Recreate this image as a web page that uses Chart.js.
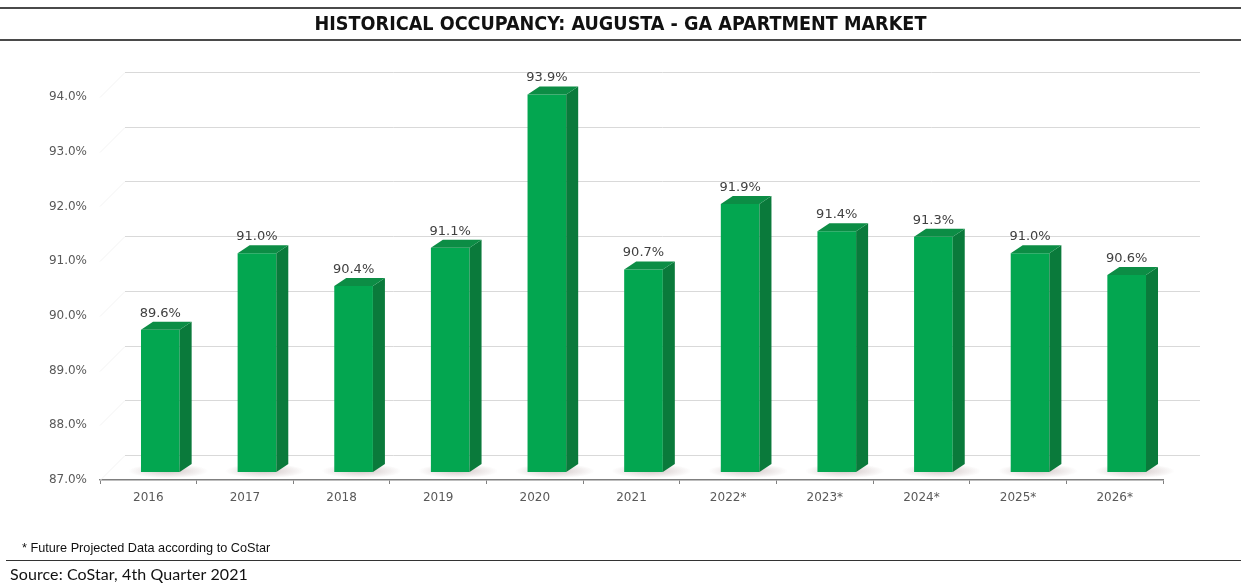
<!DOCTYPE html>
<html>
<head>
<meta charset="utf-8">
<script src="https://cdn.jsdelivr.net/npm/chart.js@4/dist/chart.umd.min.js"></script>
<style>
  body { margin: 0; background: #fff; }
  #wrap { position: relative; width: 1241px; height: 586px; overflow: hidden; }
  #title {
    position: absolute; left: 0; top: 7px; width: 1241px; height: 30px;
    border-top: 2px solid #4a4a4a; border-bottom: 2px solid #4a4a4a;
    text-align: center; line-height: 30px;
    font-family: "DejaVu Sans Condensed", "Liberation Sans", sans-serif;
    font-weight: bold; font-size: 19.6px; color: #111;
  }
  #note {
    position: absolute; left: 22px; top: 541px;
    font-family: "Liberation Sans", Arial, sans-serif; font-size: 12.7px; color: #111;
  }
  #rule { position: absolute; left: 6px; right: 0; top: 560px; border-top: 1.5px solid #333; }
  #source {
    position: absolute; left: 10px; top: 564px; letter-spacing: 0.1px;
    font-family: "Lato", "DejaVu Sans", sans-serif; font-size: 16px; color: #111;
  }
  canvas { position: absolute; left: 0; top: 0; }
</style>
</head>
<body>
<div id="wrap">
  <canvas id="grafico" width="1241" height="586"></canvas>
  <div id="title">HISTORICAL OCCUPANCY: AUGUSTA - GA APARTMENT MARKET</div>
  <div id="note">* Future Projected Data according to CoStar</div>
  <div id="rule"></div>
  <div id="source">Source: CoStar, 4th Quarter 2021</div>
</div>
<script>
const anos = ["2016", "2017", "2018", "2019", "2020", "2021", "2022*", "2023*", "2024*", "2025*", "2026*"]
const ocupacao = [89.6, 91.0, 90.4, 91.1, 93.9, 90.7, 91.9, 91.4, 91.3, 91.0, 90.6]
const eixoMin = 87
const eixoMax = 94

// deslocamento das barras para o fundo e profundidade da barra
const barShift = { x: 12, y: -8 }
const depth = { x: 12, y: -8 }
const wall = 25

const fundo3d = {
    id: 'fundo3d',
    beforeDatasetsDraw(chart) {
        const ctx = chart.ctx
        const y = chart.scales.y
        const area = chart.chartArea
        ctx.save()
        ctx.lineWidth = 1
        y.ticks.forEach((t) => {
            const py = Math.round(y.getPixelForValue(t.value)) + 0.5
            ctx.strokeStyle = '#f3f3f3'
            ctx.beginPath()
            ctx.moveTo(area.left, py)
            ctx.lineTo(area.left + wall, py - wall)
            ctx.stroke()
            ctx.strokeStyle = '#d9d9d9'
            ctx.beginPath()
            ctx.moveTo(area.left + wall, py - wall)
            ctx.lineTo(area.right + wall + 12, py - wall)
            ctx.stroke()
        })
        // sombra no chão
        const meta = chart.getDatasetMeta(0)
        meta.data.forEach((bar) => {
            const cx = bar.x + barShift.x + 8
            const cy = bar.base + barShift.y - 1
            ctx.save()
            ctx.translate(cx, cy)
            ctx.scale(1, 0.18)
            const g = ctx.createRadialGradient(0, 0, 4, 0, 0, 40)
            g.addColorStop(0, 'rgba(140,110,110,0.35)')
            g.addColorStop(1, 'rgba(140,110,110,0)')
            ctx.fillStyle = g
            ctx.beginPath()
            ctx.arc(0, 0, 40, 0, Math.PI * 2)
            ctx.fill()
            ctx.restore()
        })
        ctx.translate(barShift.x, barShift.y)
    },
    afterDatasetsDraw(chart) {
        const ctx = chart.ctx
        const meta = chart.getDatasetMeta(0)
        meta.data.forEach((bar, i) => {
            const half = bar.width / 2
            const l = bar.x - half
            const r = bar.x + half
            const top = bar.y
            const base = bar.base
            // lado
            ctx.fillStyle = '#0a7a3b'
            ctx.beginPath()
            ctx.moveTo(r, top)
            ctx.lineTo(r + depth.x, top + depth.y)
            ctx.lineTo(r + depth.x, base + depth.y)
            ctx.lineTo(r, base)
            ctx.closePath()
            ctx.fill()
            // topo
            ctx.fillStyle = '#0c8d45'
            ctx.beginPath()
            ctx.moveTo(l, top)
            ctx.lineTo(l + depth.x, top + depth.y)
            ctx.lineTo(r + depth.x, top + depth.y)
            ctx.lineTo(r, top)
            ctx.closePath()
            ctx.fill()
            // rótulo
            ctx.fillStyle = '#404040'
            ctx.font = '13px "DejaVu Sans", sans-serif'
            ctx.textAlign = 'center'
            ctx.textBaseline = 'bottom'
            ctx.fillText(ocupacao[i].toFixed(1) + '%', bar.x, top + depth.y - 2)
        })
        ctx.restore()
    }
}

function criarGrafico() {
    const canvas = document.getElementById('grafico')
    new Chart(canvas, {
        type: 'bar',
        data: {
            labels: anos,
            datasets: [{
                data: ocupacao,
                base: eixoMin,
                backgroundColor: (c) => {
                    const el = c.element
                    if (!el || el.width === undefined) return '#03a650'
                    const x0 = el.x - el.width / 2
                    const g = c.chart.ctx.createLinearGradient(x0, 0, x0 + el.width, 0)
                    g.addColorStop(0, '#069a4a')
                    g.addColorStop(0.5, '#04ac55')
                    g.addColorStop(1, '#039c4b')
                    return g
                },
                borderWidth: 0,
                barPercentage: 0.4,
                categoryPercentage: 1,
                clip: false
            }]
        },
        options: {
            responsive: false,
            animation: false,
            layout: { padding: { left: 0, top: 97, right: 78, bottom: 76 } },
            scales: {
                x: {
                    afterFit: (s) => { s.height = 30 },
                    grid: { display: true, drawOnChartArea: false, color: '#808080', tickLength: 4, offset: true },
                    border: { display: true, color: '#7f7f7f', width: 1.5 },
                    ticks: { color: '#595959', font: { family: 'DejaVu Sans', size: 12 }, padding: 7 }
                },
                y: {
                    min: eixoMin,
                    max: eixoMax,
                    afterFit: (s) => { s.width = 100 },
                    grid: { display: false },
                    border: { display: false },
                    ticks: {
                        stepSize: 1,
                        padding: 5,
                        color: '#595959',
                        font: { family: 'DejaVu Sans', size: 12 },
                        callback: (v) => v.toFixed(1) + '%'
                    }
                }
            },
            plugins: {
                legend: { display: false },
                tooltip: { enabled: false }
            }
        },
        plugins: [fundo3d]
    })
}

criarGrafico()
</script>
</body>
</html>
